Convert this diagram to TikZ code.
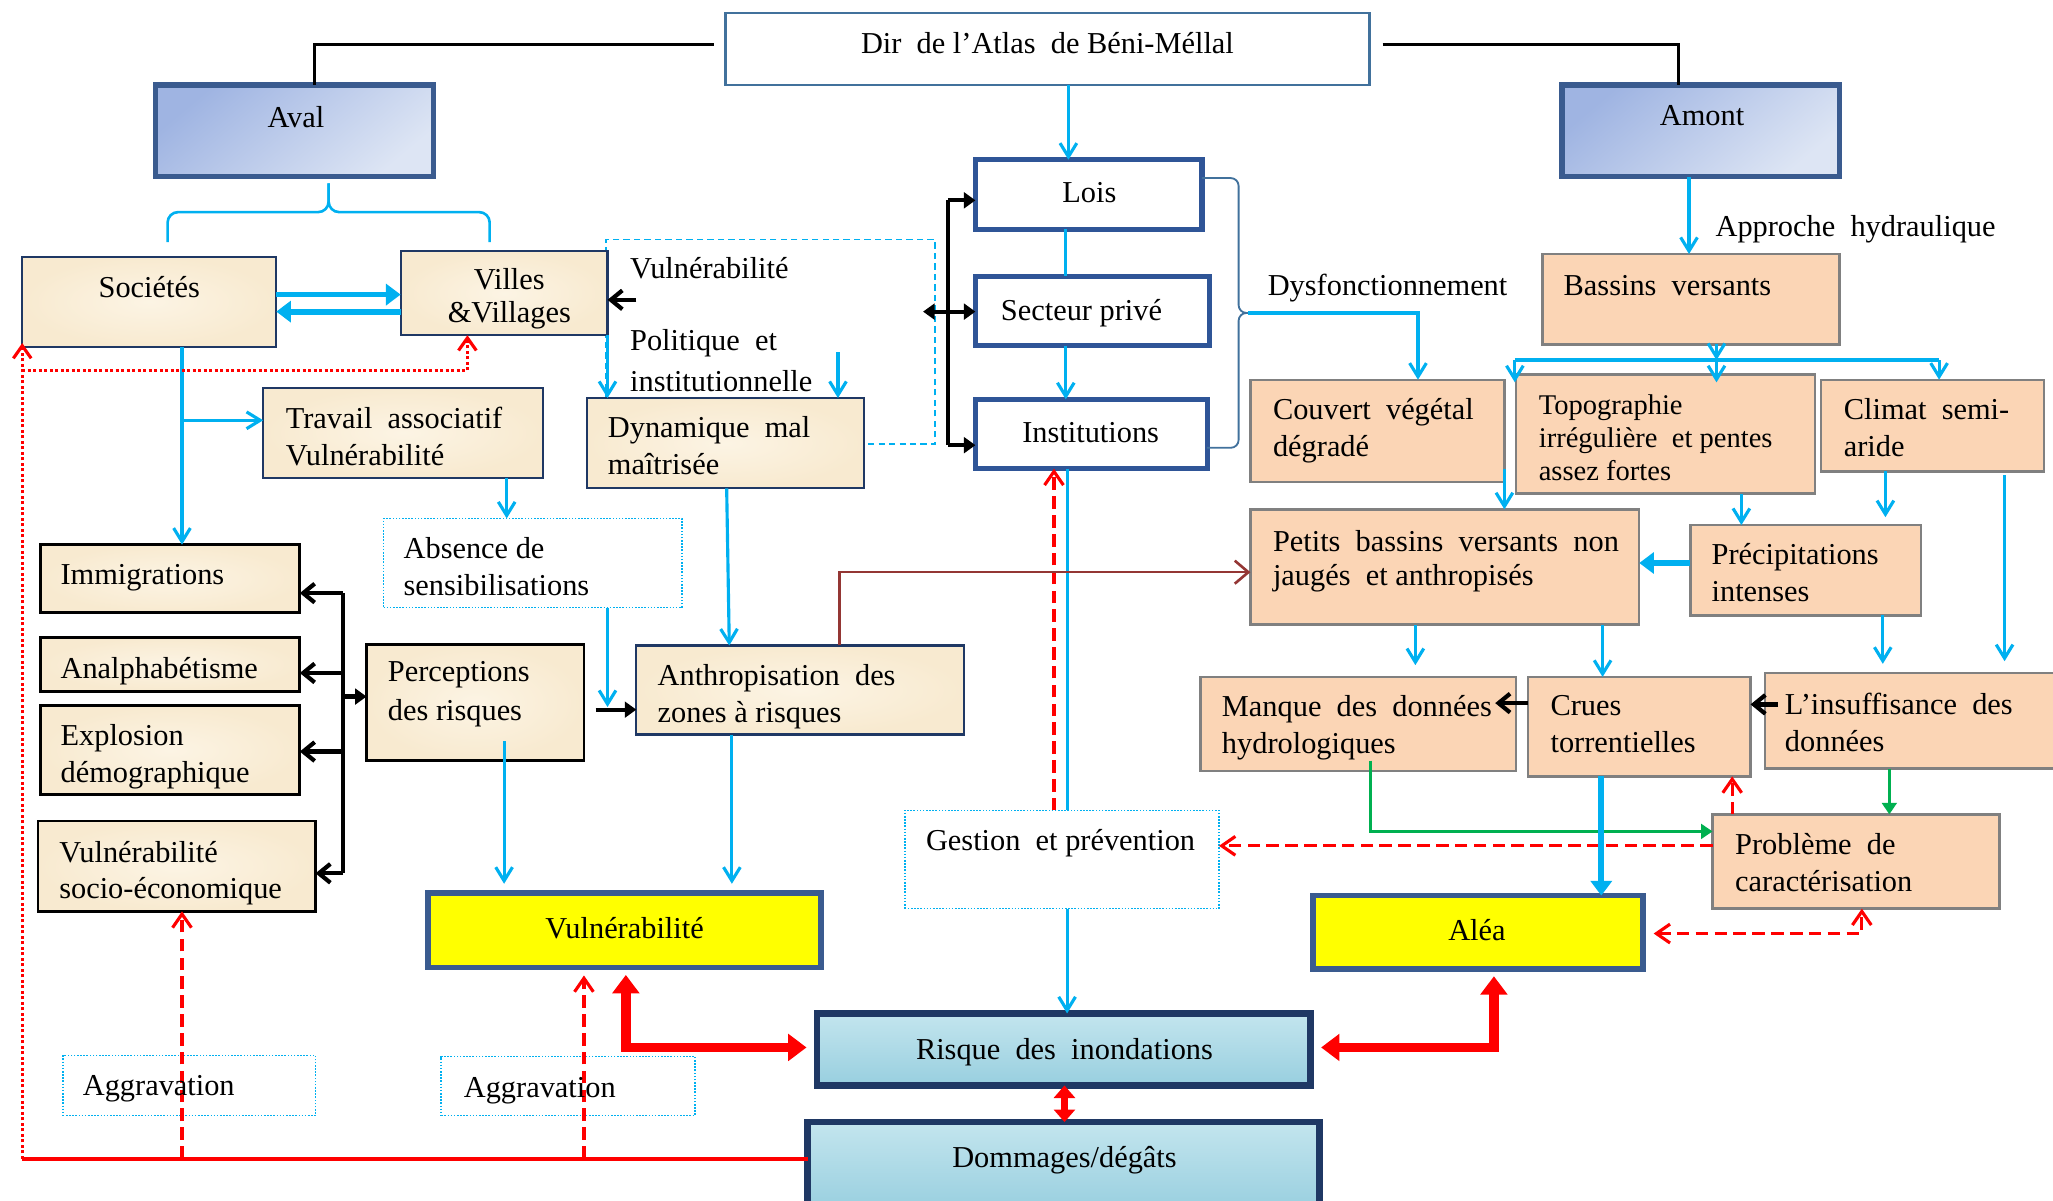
\documentclass[tikz,border=0pt]{standalone}
\usepackage{fontspec}
\setmainfont{Liberation Serif}
\usetikzlibrary{arrows.meta}
\definecolor{cCy}{HTML}{00B0F0}
\definecolor{cNavy}{HTML}{1F3864}
\definecolor{cBord}{HTML}{3A5B8F}
\definecolor{cInst}{HTML}{2F5597}
\definecolor{cDir}{HTML}{41719C}
\definecolor{cPeach}{HTML}{FBD5B5}
\definecolor{cParch}{HTML}{F8EAD0}
\definecolor{cParchL}{HTML}{FCF4E4}
\definecolor{cGrn}{HTML}{00B050}
\definecolor{cDred}{HTML}{943634}
\definecolor{cRed}{HTML}{FF0000}
\definecolor{cYel}{HTML}{FFFF00}
\definecolor{cAvalA}{HTML}{9FB4E2}
\definecolor{cAvalB}{HTML}{DDE5F4}
\definecolor{cWA}{HTML}{C3E5EE}
\definecolor{cWB}{HTML}{98CFDF}
\newcommand\wsp{\hspace{0.5em}}
\newcommand\bx[6]{\node[#1,anchor=north west,inner sep=0pt,outer sep=0pt,minimum width={(#5-#3)*0.25mm},minimum height={(#6-#4)*0.25mm}] (#2) at (#3,#4) {};}
% single-line text: #4 = nominal top
\newcommand\tx[5][]{\node[txt,#1] (#2) at (#3,#4+1.5) {#5};}
% multi-line text
\newcommand\mtx[5][]{\node[txt,#1] (#2) at (#3,#4+5) {#5};}
\begin{document}
\begin{tikzpicture}[x=0.25mm,y=-0.25mm,
 txt/.style={anchor=north west,inner sep=0pt,align=left,font=\fontsize{16.5}{20}\selectfont,execute at begin node=\strut},
 ctxt/.style={anchor=base,inner sep=0pt,font=\fontsize{16.5}{20}\selectfont},
 hdr/.style={draw=cBord,line width=1mm,top color=cAvalA,bottom color=cAvalB,shading angle=40},
 dirbox/.style={draw=cDir,line width=0.5mm,fill=white},
 instbox/.style={draw=cInst,line width=1mm,fill=white},
 parchbox/.style={draw=cNavy,line width=0.4mm,inner color=cParchL,outer color=cParch},
 parchblk/.style={draw=black,line width=0.55mm,inner color=cParchL,outer color=cParch},
 peachbox/.style={draw=gray,line width=0.45mm,fill=cPeach},
 yelbox/.style={draw=cBord,line width=1.1mm,fill=cYel},
 water/.style={draw=cNavy,line width=1.3mm,top color=cWA,bottom color=cWB},
 dotbox/.style={draw=cCy,line width=0.3mm,dash pattern=on 0.3mm off 0.3mm},
 dashbox/.style={draw=cCy,line width=0.3mm,dash pattern=on 1.2mm off 0.8mm},
 bl/.style={draw=cCy,line width=0.6mm},
 ba/.style={bl,-{Straight Barb[length=2.6mm,width=3.2mm]}},
 tba/.style={draw=cCy,line width=1.1mm,-{Triangle[length=2.8mm,width=4mm]}},
 kl/.style={draw=black,line width=0.6mm},
 ka/.style={draw=black,line width=0.8mm,-{Straight Barb[length=2.2mm,width=3.6mm]}},
 kt/.style={draw=black,line width=0.8mm,-{Triangle[length=2.2mm,width=3mm]}},
 kd/.style={draw=black,line width=0.8mm,{Triangle[length=2.2mm,width=3mm]}-{Triangle[length=2.2mm,width=3mm]}},
 rt/.style={draw=cRed,line width=1.8mm,{Triangle[length=3.5mm,width=5mm]}-{Triangle[length=3.5mm,width=5mm]}},
 rts/.style={draw=cRed,line width=1.4mm,{Triangle[length=2.4mm,width=4mm]}-{Triangle[length=2.4mm,width=4mm]}},
 rdash/.style={draw=cRed,line width=0.6mm,dash pattern=on 2.4mm off 1.2mm},
 rda/.style={rdash,-{Straight Barb[length=2.6mm,width=3.6mm]}},
 rdd/.style={rdash,{Straight Barb[length=2.6mm,width=3.6mm]}-{Straight Barb[length=2.6mm,width=3.6mm]}},
 rdot/.style={draw=cRed,line width=0.6mm,dash pattern=on 0.6mm off 0.45mm},
 rdota/.style={rdot,-{Straight Barb[length=2.4mm,width=3.4mm]}},
 rline/.style={draw=cRed,line width=0.7mm},
 gra/.style={draw=cGrn,line width=0.6mm,-{Triangle[length=2.2mm,width=2.8mm]}},
 dra/.style={draw=cDred,line width=0.5mm,-{Straight Barb[length=2.6mm,width=4.4mm]}},
 brace/.style={draw=cCy,line width=0.5mm,rounded corners=2mm},
 braceb/.style={draw=cDir,line width=0.35mm,rounded corners=1.5mm}]
\useasboundingbox (0,0) rectangle (1568,917);
% ---- boxes
\bx{dashbox}{vgrp}{463}{183}{714}{339}
\bx{dirbox}{dir}{554}{10}{1046}{65}
\bx{hdr}{aval}{119}{65}{331}{135}
\bx{hdr}{amont}{1193}{65}{1405}{135}
\bx{parchbox}{soc}{17}{196}{211}{265}
\bx{parchbox}{vil}{306}{192}{464}{256}
\bx{parchbox}{trav}{201}{296}{415}{365}
\bx{parchbox}{dyn}{448}{304}{660}{373}
\bx{dotbox}{abs}{293}{396}{521}{464}
\bx{parchblk}{imm}{31}{416}{229}{468}
\bx{parchblk}{ana}{31}{487}{229}{528}
\bx{parchblk}{expl}{31}{539}{229}{607}
\bx{parchblk}{soe}{29}{627}{241}{696}
\bx{parchblk}{per}{280}{492}{446}{581}
\bx{parchbox}{anth}{486}{493}{736}{561}
\bx{yelbox}{vul}{327}{682}{627}{739}
\bx{dotbox}{agg1}{48}{806}{241}{852}
\bx{dotbox}{agg2}{337}{807}{531}{852}
\bx{water}{risk}{624}{774}{1001}{829}
\bx{water}{dom}{617}{857}{1008}{925}
\bx{dotbox}{gest}{691}{619}{931}{694}
\bx{instbox}{lois}{745}{122}{918}{175}
\bx{instbox}{sec}{745}{211}{924}{264}
\bx{instbox}{inst}{745}{305}{922}{358}
\bx{peachbox}{bas}{1178}{194}{1405}{263}
\bx{peachbox}{couv}{955}{290}{1149}{368}
\bx{peachbox}{topo}{1158}{286}{1386}{377}
\bx{peachbox}{clim}{1391}{290}{1561}{360}
\bx{peachbox}{pet}{955}{389}{1252}{477}
\bx{peachbox}{prec}{1291}{401}{1467}{470}
\bx{peachbox}{man}{917}{517}{1158}{589}
\bx{peachbox}{crue}{1167}{517}{1337}{593}
\bx{peachbox}{insf}{1348}{514}{1575}{587}
\bx{peachbox}{prob}{1308}{622}{1527}{694}
\bx{yelbox}{alea}{1003}{684}{1255}{740}
% ---- top black lines
\draw[kl,shorten <=2.25mm] (dir.west |- 0,34) -| (240,0 |- aval.north);
\draw[kl,shorten <=2.5mm] (dir.east |- 0,34) -| (1282,0 |- amont.north);
% ---- braces
\draw[brace] (128,185) -- (128,162) -- (251,162) -- (251,140);
\draw[brace] (374,185) -- (374,162) -- (251,162) -- (251,140);
\draw[braceb] (lois.east |- 0,136) -- (946,136) -- (946,239) -- (956,239);
\draw[braceb] (inst.east |- 0,342) -- (946,342) -- (946,239) -- (956,239);
\coordinate (dysf) at (953,239);
\draw[ba] (dysf) -| (1083,0 |- couv.north);
% ---- central column
\draw[ba] (816,0 |- dir.south) -- (816,0 |- lois.north);
\draw[bl] (814,0 |- lois.south) -- (814,0 |- sec.north);
\draw[ba] (814,0 |- sec.south) -- (814,0 |- inst.north);
\coordinate (kb1) at (724,153); \coordinate (kb2) at (724,340); \coordinate (kb3) at (705,238);
\draw[kl] (kb1) -- (kb2);
\draw[kt] (kb1) -- (lois.west |- kb1);
\draw[kt] (kb2) -- (inst.west |- kb2);
\draw[kd] (kb3) -- (sec.west |- kb3);
\draw[rda] (805,0 |- gest.north) -- (805,0 |- inst.south);
\draw[bl] (815,0 |- inst.south) -- (815,0 |- gest.north);
\draw[ba] (815,0 |- gest.south) -- (815,0 |- risk.north);
% ---- right part
\draw[ba] (1290,0 |- amont.south) -- (1290,0 |- bas.north);
\coordinate (sp) at (1311,275); \coordinate (spl) at (1157,275); \coordinate (spr) at (1481,275);
\draw[ba] (1311,0 |- bas.south) -- (sp);
\draw[bl] (spl) -- (spr);
\draw[ba] (spl) -- (1157,292);
\draw[ba] (sp) -- (1311,292);
\draw[ba] (spr) -- (1481,0 |- clim.north);
\draw[ba] (1149,358) -- (1149,0 |- pet.north);
\draw[ba] (1330,0 |- topo.south) -- (1330,0 |- prec.north);
\draw[ba] (1440,0 |- clim.south) -- (1440,395);
\draw[ba] (1531,363) -- (1531,505);
\draw[tba] (prec.west |- 0,430) -- (pet.east |- 0,430);
\draw[ba] (1081,0 |- pet.south) -- (1081,508);
\draw[ba] (1224,0 |- pet.south) -- (1224,0 |- crue.north);
\draw[ba] (1438,0 |- prec.south) -- (1438,507);
\draw[ka] (crue.west |- 0,537) -- (1142,537);
\draw[ka] (1358,538) -- (crue.east |- 0,538);
\draw[gra] (1047,581) |- (prob.west |- 0,635);
\draw[gra] (1443,0 |- insf.south) -- (1443,0 |- prob.north);
\draw[rda] (1323,0 |- prob.north) -- (1323,0 |- crue.south);
\draw[rda] (prob.west |- 0,646) -- (gest.east |- 0,646);
\draw[rdd] (1263,713) -| (1422,0 |- prob.south);
\draw[tba] (1223,0 |- crue.south) -- (1223,0 |- alea.north);
% ---- red thick
\draw[rt,shorten <=1.4mm,shorten >=2mm] (1141,0 |- alea.south) |- (risk.east |- 0,800);
\draw[rt,shorten <=1.4mm,shorten >=2mm] (478,0 |- vul.south) |- (risk.west |- 0,800);
\draw[rts] (813,0 |- risk.south) -- (813,0 |- dom.north);
% ---- left part
\draw[tba] (soc.east |- 0,225) -- (vil.west |- 0,225);
\draw[tba] (vil.west |- 0,238) -- (soc.east |- 0,238);
\draw[ba] (464,0 |- vil.south) -- (464,0 |- dyn.north);
\draw[ka] (486,229) -- (vil.east |- 0,229);
\draw[ba] (640,269) -- (640,0 |- dyn.north);
\draw[ba] (139,0 |- soc.south) -- (139,0 |- imm.north);
\draw[ba] (139,321) -- (trav.west |- 0,321);
\draw[ba] (387,0 |- trav.south) -- (387,0 |- abs.north);
\draw[ba] (464,0 |- abs.south) -- (464,540);
\draw[kt,shorten <=2.25mm] (per.east |- 0,542) -- (anth.west |- 0,542);
\draw[ba] (555,0 |- dyn.south) -- (557,0 |- anth.north);
\draw[dra] (641,0 |- anth.north) |- (pet.west |- 0,437);
\coordinate (lb1) at (262,453); \coordinate (lb2) at (262,667);
\draw[kl] (lb1) -- (lb2);
\draw[ka] (lb1) -- (imm.east |- lb1);
\draw[ka] (262,514) -- (ana.east |- 0,514);
\draw[ka] (262,574) -- (expl.east |- 0,574);
\draw[ka] (lb2) -- (soe.east |- lb2);
\draw[kt] (262,532) -- (per.west |- 0,532);
\draw[ba] (385,566) -- (385,675);
\draw[ba] (559,0 |- anth.south) -- (559,675);
% ---- red bottom
\coordinate (rb) at (17,885);
\draw[rline] (dom.west |- rb) -- (rb);
\draw[rdota] (rb) -- (17,262);
\draw[rdota] (17,283) -| (357,0 |- vil.south);
\draw[rda,shorten >=1.5mm] (446,885) -- (446,0 |- vul.south);
\draw[rda] (139,885) -- (139,0 |- soe.south);
% ---- texts
\node[ctxt] (dir-t) at (800,41) {Dir\wsp de l’Atlas\wsp de Béni-Méllal};
\node[ctxt] (aval-t) at (226,97) {Aval};
\node[ctxt] (amont-t) at (1300,96) {Amont};
\node[ctxt] (soc-t) at (114,227) {Sociétés};
\node[ctxt] (vil-t1) at (389,221) {Villes};
\node[ctxt] (vil-t2) at (389,246) {\&Villages};
\node[ctxt] (lois-t) at (832,155) {Lois};
\node[ctxt] (sec-t) at (826,245) {Secteur privé};
\node[ctxt] (inst-t) at (833,338) {Institutions};
\node[ctxt] (vul-t) at (477,717) {Vulnérabilité};
\node[ctxt] (alea-t) at (1128,718) {Aléa};
\node[ctxt] (risk-t) at (813,809) {Risque\wsp des\wsp inondations};
\node[ctxt] (dom-t) at (813,892) {Dommages/dégâts};
\tx{vgrp-t}{481}{191}{Vulnérabilité}
\mtx[font=\fontsize{16.5}{22}\selectfont]{pol-t}{481}{246.4}{Politique\wsp et\\institutionnelle}
\mtx{dyn-t}{464}{313}{Dynamique\wsp mal\\maîtrisée}
\mtx{trav-t}{218}{306}{Travail\wsp associatif\\Vulnérabilité}
\mtx{abs-t}{308}{405}{Absence de\\sensibilisations}
\tx{imm-t}{46}{425}{Immigrations}
\tx{ana-t}{46}{497}{Analphabétisme}
\mtx{expl-t}{46}{548}{Explosion\\démographique}
\mtx{soe-t}{45}{637}{Vulnérabilité\\socio-économique}
\mtx[font=\fontsize{16.5}{21}\selectfont]{per-t}{296}{500}{Perceptions\\des risques}
\mtx{anth-t}{502}{502}{Anthropisation\wsp des\\zones à risques}
\tx{agg1-t}{63}{815}{Aggravation}
\tx{agg2-t}{354}{817}{Aggravation}
\tx{gest-t}{707}{628}{Gestion\wsp et prévention}
\tx{dys-t}{968}{204}{Dysfonctionnement}
\tx{app-t}{1310}{159}{Approche\wsp hydraulique}
\tx{bas-t}{1194}{204}{Bassins\wsp versants}
\mtx{couv-t}{972}{299}{Couvert\wsp végétal\\dégradé}
\mtx[font=\fontsize{15.5}{17.8}\selectfont]{topo-t}{1175}{296.5}{Topographie\\irrégulière\wsp et pentes\\assez fortes}
\mtx{clim-t}{1408}{299}{Climat\wsp semi-\\aride}
\mtx[font=\fontsize{16.5}{18.5}\selectfont]{pet-t}{972}{399.8}{Petits\wsp bassins\wsp versants\wsp non\\jaugés\wsp et anthropisés}
\mtx{prec-t}{1307}{410}{Précipitations\\intenses}
\mtx{man-t}{933}{526}{Manque\wsp des\wsp données\\hydrologiques}
\mtx{crue-t}{1184}{526}{Crues\\torrentielles}
\mtx{insf-t}{1363}{524}{L’insuffisance\wsp des\\données}
\mtx{prob-t}{1325}{631}{Problème\wsp de\\caractérisation}
\end{tikzpicture}
\end{document}
